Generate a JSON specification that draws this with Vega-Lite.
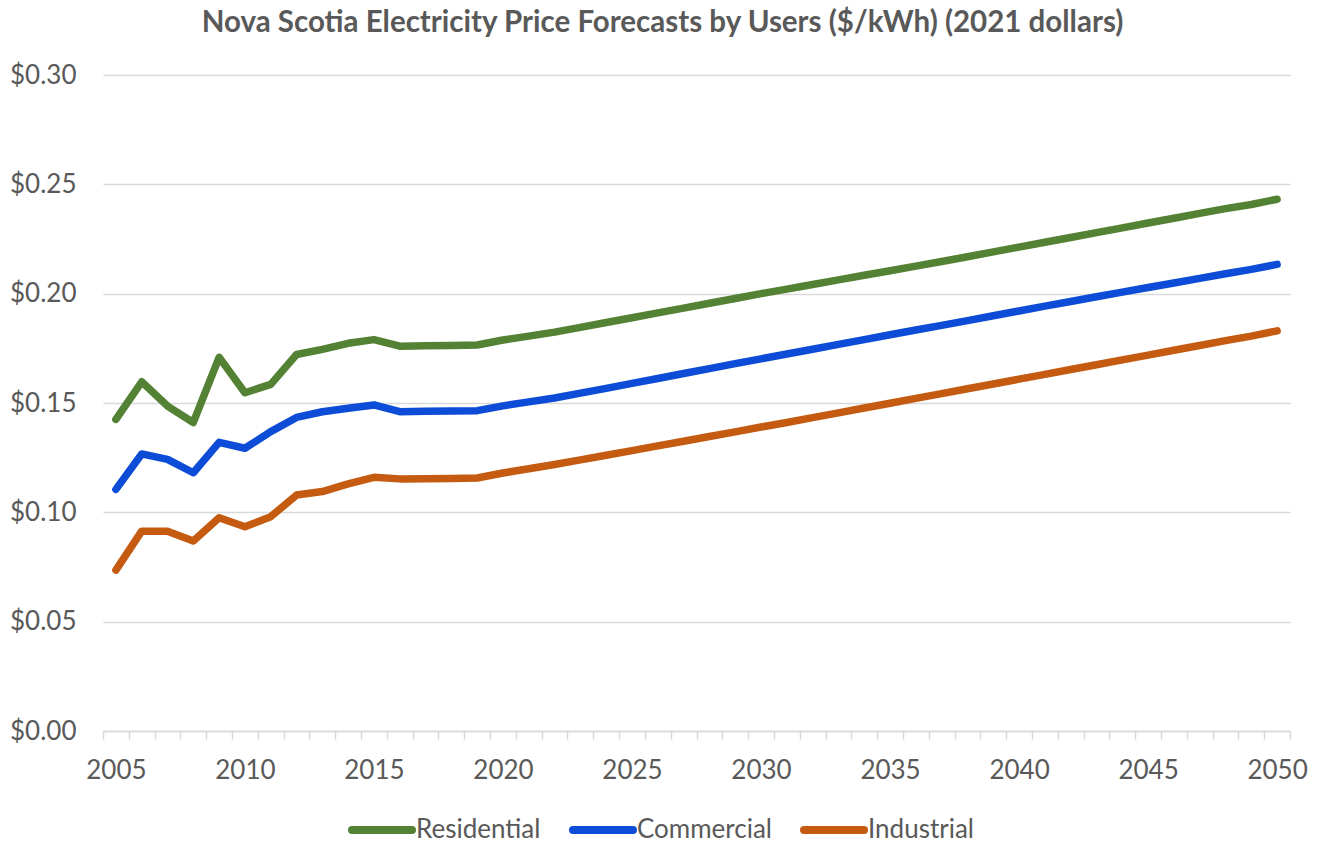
{
  "$schema": "https://vega.github.io/schema/vega-lite/v6.json",
  "autosize": "none",
  "width": 1187,
  "height": 656,
  "padding": {"left": 103, "top": 75, "right": 31, "bottom": 112},
  "background": "white",
  "config": {
    "font": "Lato",
    "view": {"stroke": null}
  },
  "title": {
    "text": "Nova Scotia Electricity Price Forecasts by Users ($/kWh) (2021 dollars)",
    "font": "Lato",
    "fontSize": 29.5,
    "fontWeight": "bold",
    "color": "#595959",
    "anchor": "middle",
    "dx": -34,
    "offset": 24
  },
  "data": {
    "values": [
      {"year": 2005, "user": "Residential", "price": 0.1425},
      {"year": 2006, "user": "Residential", "price": 0.1597},
      {"year": 2007, "user": "Residential", "price": 0.1486},
      {"year": 2008, "user": "Residential", "price": 0.1411},
      {"year": 2009, "user": "Residential", "price": 0.1709},
      {"year": 2010, "user": "Residential", "price": 0.1547},
      {"year": 2011, "user": "Residential", "price": 0.1585},
      {"year": 2012, "user": "Residential", "price": 0.1722},
      {"year": 2013, "user": "Residential", "price": 0.1745},
      {"year": 2014, "user": "Residential", "price": 0.1773},
      {"year": 2015, "user": "Residential", "price": 0.1790},
      {"year": 2016, "user": "Residential", "price": 0.1760},
      {"year": 2017, "user": "Residential", "price": 0.1762},
      {"year": 2018, "user": "Residential", "price": 0.1763},
      {"year": 2019, "user": "Residential", "price": 0.1765},
      {"year": 2020, "user": "Residential", "price": 0.1788},
      {"year": 2021, "user": "Residential", "price": 0.1806},
      {"year": 2022, "user": "Residential", "price": 0.1824},
      {"year": 2023, "user": "Residential", "price": 0.1846},
      {"year": 2024, "user": "Residential", "price": 0.1868},
      {"year": 2025, "user": "Residential", "price": 0.1890},
      {"year": 2026, "user": "Residential", "price": 0.1912},
      {"year": 2027, "user": "Residential", "price": 0.1934},
      {"year": 2028, "user": "Residential", "price": 0.1956},
      {"year": 2029, "user": "Residential", "price": 0.1978},
      {"year": 2030, "user": "Residential", "price": 0.2000},
      {"year": 2031, "user": "Residential", "price": 0.2021},
      {"year": 2032, "user": "Residential", "price": 0.2042},
      {"year": 2033, "user": "Residential", "price": 0.2063},
      {"year": 2034, "user": "Residential", "price": 0.2084},
      {"year": 2035, "user": "Residential", "price": 0.2105},
      {"year": 2036, "user": "Residential", "price": 0.2126},
      {"year": 2037, "user": "Residential", "price": 0.2147},
      {"year": 2038, "user": "Residential", "price": 0.2169},
      {"year": 2039, "user": "Residential", "price": 0.2191},
      {"year": 2040, "user": "Residential", "price": 0.2213},
      {"year": 2041, "user": "Residential", "price": 0.2235},
      {"year": 2042, "user": "Residential", "price": 0.2257},
      {"year": 2043, "user": "Residential", "price": 0.2279},
      {"year": 2044, "user": "Residential", "price": 0.2301},
      {"year": 2045, "user": "Residential", "price": 0.2323},
      {"year": 2046, "user": "Residential", "price": 0.2345},
      {"year": 2047, "user": "Residential", "price": 0.2367},
      {"year": 2048, "user": "Residential", "price": 0.2389},
      {"year": 2049, "user": "Residential", "price": 0.2408},
      {"year": 2050, "user": "Residential", "price": 0.2432},
      {"year": 2005, "user": "Commercial", "price": 0.1105},
      {"year": 2006, "user": "Commercial", "price": 0.1267},
      {"year": 2007, "user": "Commercial", "price": 0.1242},
      {"year": 2008, "user": "Commercial", "price": 0.1181},
      {"year": 2009, "user": "Commercial", "price": 0.1320},
      {"year": 2010, "user": "Commercial", "price": 0.1293},
      {"year": 2011, "user": "Commercial", "price": 0.1369},
      {"year": 2012, "user": "Commercial", "price": 0.1434},
      {"year": 2013, "user": "Commercial", "price": 0.1460},
      {"year": 2014, "user": "Commercial", "price": 0.1476},
      {"year": 2015, "user": "Commercial", "price": 0.1491},
      {"year": 2016, "user": "Commercial", "price": 0.1460},
      {"year": 2017, "user": "Commercial", "price": 0.1462},
      {"year": 2018, "user": "Commercial", "price": 0.1463},
      {"year": 2019, "user": "Commercial", "price": 0.1465},
      {"year": 2020, "user": "Commercial", "price": 0.1487},
      {"year": 2021, "user": "Commercial", "price": 0.1505},
      {"year": 2022, "user": "Commercial", "price": 0.1523},
      {"year": 2023, "user": "Commercial", "price": 0.1545},
      {"year": 2024, "user": "Commercial", "price": 0.1567},
      {"year": 2025, "user": "Commercial", "price": 0.1590},
      {"year": 2026, "user": "Commercial", "price": 0.1612},
      {"year": 2027, "user": "Commercial", "price": 0.1635},
      {"year": 2028, "user": "Commercial", "price": 0.1657},
      {"year": 2029, "user": "Commercial", "price": 0.1680},
      {"year": 2030, "user": "Commercial", "price": 0.1702},
      {"year": 2031, "user": "Commercial", "price": 0.1724},
      {"year": 2032, "user": "Commercial", "price": 0.1746},
      {"year": 2033, "user": "Commercial", "price": 0.1768},
      {"year": 2034, "user": "Commercial", "price": 0.1790},
      {"year": 2035, "user": "Commercial", "price": 0.1812},
      {"year": 2036, "user": "Commercial", "price": 0.1834},
      {"year": 2037, "user": "Commercial", "price": 0.1855},
      {"year": 2038, "user": "Commercial", "price": 0.1877},
      {"year": 2039, "user": "Commercial", "price": 0.1899},
      {"year": 2040, "user": "Commercial", "price": 0.1921},
      {"year": 2041, "user": "Commercial", "price": 0.1943},
      {"year": 2042, "user": "Commercial", "price": 0.1964},
      {"year": 2043, "user": "Commercial", "price": 0.1986},
      {"year": 2044, "user": "Commercial", "price": 0.2007},
      {"year": 2045, "user": "Commercial", "price": 0.2028},
      {"year": 2046, "user": "Commercial", "price": 0.2049},
      {"year": 2047, "user": "Commercial", "price": 0.2070},
      {"year": 2048, "user": "Commercial", "price": 0.2091},
      {"year": 2049, "user": "Commercial", "price": 0.2111},
      {"year": 2050, "user": "Commercial", "price": 0.2134},
      {"year": 2005, "user": "Industrial", "price": 0.0736},
      {"year": 2006, "user": "Industrial", "price": 0.0914},
      {"year": 2007, "user": "Industrial", "price": 0.0914},
      {"year": 2008, "user": "Industrial", "price": 0.0869},
      {"year": 2009, "user": "Industrial", "price": 0.0975},
      {"year": 2010, "user": "Industrial", "price": 0.0934},
      {"year": 2011, "user": "Industrial", "price": 0.0980},
      {"year": 2012, "user": "Industrial", "price": 0.1079},
      {"year": 2013, "user": "Industrial", "price": 0.1095},
      {"year": 2014, "user": "Industrial", "price": 0.1130},
      {"year": 2015, "user": "Industrial", "price": 0.1160},
      {"year": 2016, "user": "Industrial", "price": 0.1153},
      {"year": 2017, "user": "Industrial", "price": 0.1154},
      {"year": 2018, "user": "Industrial", "price": 0.1155},
      {"year": 2019, "user": "Industrial", "price": 0.1157},
      {"year": 2020, "user": "Industrial", "price": 0.1180},
      {"year": 2021, "user": "Industrial", "price": 0.1199},
      {"year": 2022, "user": "Industrial", "price": 0.1219},
      {"year": 2023, "user": "Industrial", "price": 0.1240},
      {"year": 2024, "user": "Industrial", "price": 0.1261},
      {"year": 2025, "user": "Industrial", "price": 0.1282},
      {"year": 2026, "user": "Industrial", "price": 0.1304},
      {"year": 2027, "user": "Industrial", "price": 0.1325},
      {"year": 2028, "user": "Industrial", "price": 0.1347},
      {"year": 2029, "user": "Industrial", "price": 0.1368},
      {"year": 2030, "user": "Industrial", "price": 0.1390},
      {"year": 2031, "user": "Industrial", "price": 0.1411},
      {"year": 2032, "user": "Industrial", "price": 0.1433},
      {"year": 2033, "user": "Industrial", "price": 0.1455},
      {"year": 2034, "user": "Industrial", "price": 0.1477},
      {"year": 2035, "user": "Industrial", "price": 0.1499},
      {"year": 2036, "user": "Industrial", "price": 0.1521},
      {"year": 2037, "user": "Industrial", "price": 0.1543},
      {"year": 2038, "user": "Industrial", "price": 0.1565},
      {"year": 2039, "user": "Industrial", "price": 0.1587},
      {"year": 2040, "user": "Industrial", "price": 0.1609},
      {"year": 2041, "user": "Industrial", "price": 0.1631},
      {"year": 2042, "user": "Industrial", "price": 0.1653},
      {"year": 2043, "user": "Industrial", "price": 0.1675},
      {"year": 2044, "user": "Industrial", "price": 0.1697},
      {"year": 2045, "user": "Industrial", "price": 0.1719},
      {"year": 2046, "user": "Industrial", "price": 0.1741},
      {"year": 2047, "user": "Industrial", "price": 0.1763},
      {"year": 2048, "user": "Industrial", "price": 0.1785},
      {"year": 2049, "user": "Industrial", "price": 0.1806},
      {"year": 2050, "user": "Industrial", "price": 0.1830}
    ]
  },
  "mark": {
    "type": "line",
    "strokeWidth": 7.5,
    "strokeCap": "round",
    "strokeJoin": "round"
  },
  "encoding": {
    "x": {
      "field": "year",
      "type": "ordinal",
      "scale": {"type": "band", "paddingInner": 0, "paddingOuter": 0},
      "axis": {
        "title": null,
        "labelAngle": 0,
        "labelExpr": "datum.value % 5 === 0 ? datum.value : ''",
        "labelFont": "Lato",
        "labelFontSize": 26,
        "labelColor": "#595959",
        "labelPadding": 18,
        "tickBand": "extent",
        "tickSize": 8,
        "tickColor": "#d9d9d9",
        "tickWidth": 1.5,
        "domainColor": "#d9d9d9",
        "domainWidth": 1.5,
        "grid": false
      }
    },
    "y": {
      "field": "price",
      "type": "quantitative",
      "scale": {"domain": [0, 0.3], "nice": false, "zero": true},
      "axis": {
        "title": null,
        "values": [0, 0.05, 0.1, 0.15, 0.2, 0.25, 0.3],
        "format": "$.2f",
        "labelFont": "Lato",
        "labelFontSize": 26,
        "labelColor": "#595959",
        "labelPadding": 27,
        "ticks": false,
        "domain": false,
        "grid": true,
        "gridColor": "#d9d9d9",
        "gridWidth": 1.5
      }
    },
    "color": {
      "field": "user",
      "type": "nominal",
      "scale": {
        "domain": ["Residential", "Commercial", "Industrial"],
        "range": ["#548235", "#0d4cd6", "#c55a11"]
      },
      "legend": {
        "title": null,
        "orient": "none",
        "direction": "horizontal",
        "legendX": 245,
        "legendY": 721,
        "symbolType": "stroke",
        "symbolSize": 3600,
        "symbolStrokeWidth": 8,
        "labelFont": "Lato",
        "labelFontSize": 26,
        "labelColor": "#595959",
        "labelOffset": 0,
        "labelLimit": 300,
        "columnPadding": 16,
        "symbolOffset": 0,
        "encode": {
          "symbols": {"update": {"strokeCap": {"value": "round"}}}
        }
      }
    }
  }
}
